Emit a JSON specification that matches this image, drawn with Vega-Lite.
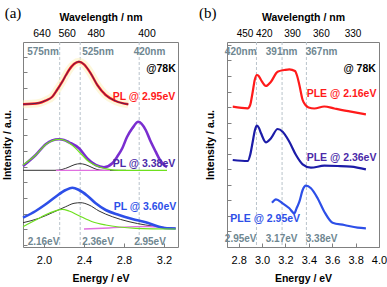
{
"$schema": "https://vega.github.io/schema/vega-lite/v6.json",
"padding": {"left": 2, "top": 5, "right": 6, "bottom": 2},
"spacing": 16,
"config": {
  "font": "Liberation Sans",
  "view": {"stroke": "#808080", "strokeWidth": 1},
  "axis": {"grid": false, "domain": false, "labelFlush": false, "labelOverlap": false, "tickColor": "#808080", "labelColor": "#000", "labelFont": "Liberation Sans", "labelFontSize": 11, "titleFont": "Liberation Sans", "titleFontSize": 10.5, "titleFontWeight": "bold", "titleColor": "#000"}
},
"datasets": {
  "pa": [
    {"dash": 2.157}, {"dash": 2.362}, {"dash": 2.952},
    {"s": "red", "E": 1.79, "y": 142.7}, {"s": "red", "E": 1.95, "y": 144}, {"s": "red", "E": 2.017, "y": 146.5}, {"s": "red", "E": 2.083, "y": 150.3}, {"s": "red", "E": 2.13, "y": 157}, {"s": "red", "E": 2.183, "y": 165.3}, {"s": "red", "E": 2.22, "y": 172}, {"s": "red", "E": 2.25, "y": 177}, {"s": "red", "E": 2.3, "y": 183}, {"s": "red", "E": 2.35, "y": 185.3}, {"s": "red", "E": 2.4, "y": 182.7}, {"s": "red", "E": 2.467, "y": 173.7}, {"s": "red", "E": 2.533, "y": 162}, {"s": "red", "E": 2.617, "y": 152}, {"s": "red", "E": 2.717, "y": 146}, {"s": "red", "E": 2.843, "y": 142.7},
    {"s": "pur", "E": 1.79, "y": 81}, {"s": "pur", "E": 1.917, "y": 92}, {"s": "pur", "E": 2.017, "y": 102.7}, {"s": "pur", "E": 2.08, "y": 106.5}, {"s": "pur", "E": 2.15, "y": 107.7}, {"s": "pur", "E": 2.2, "y": 107}, {"s": "pur", "E": 2.25, "y": 104.7}, {"s": "pur", "E": 2.35, "y": 98.7}, {"s": "pur", "E": 2.433, "y": 88.7}, {"s": "pur", "E": 2.517, "y": 82}, {"s": "pur", "E": 2.6, "y": 79.7}, {"s": "pur", "E": 2.683, "y": 83.7}, {"s": "pur", "E": 2.73, "y": 90}, {"s": "pur", "E": 2.783, "y": 98.7}, {"s": "pur", "E": 2.83, "y": 110}, {"s": "pur", "E": 2.883, "y": 118.7}, {"s": "pur", "E": 2.943, "y": 125.3}, {"s": "pur", "E": 3.017, "y": 117}, {"s": "pur", "E": 3.06, "y": 107}, {"s": "pur", "E": 3.117, "y": 95.3}, {"s": "pur", "E": 3.16, "y": 87}, {"s": "pur", "E": 3.2, "y": 82}, {"s": "pur", "E": 3.23, "y": 80},
    {"s": "gm", "E": 1.79, "y": 82}, {"s": "gm", "E": 1.917, "y": 92}, {"s": "gm", "E": 2.017, "y": 102.5}, {"s": "gm", "E": 2.15, "y": 107.7}, {"s": "gm", "E": 2.21, "y": 106.5}, {"s": "gm", "E": 2.28, "y": 102}, {"s": "gm", "E": 2.35, "y": 95.3}, {"s": "gm", "E": 2.45, "y": 85.3}, {"s": "gm", "E": 2.55, "y": 80.3}, {"s": "gm", "E": 2.65, "y": 77.7}, {"s": "gm", "E": 2.75, "y": 76.7}, {"s": "gm", "E": 3.23, "y": 76.7},
    {"s": "km", "E": 1.79, "y": 76.7}, {"s": "km", "E": 2.11, "y": 76.7}, {"s": "km", "E": 2.18, "y": 77.5}, {"s": "km", "E": 2.25, "y": 80}, {"s": "km", "E": 2.31, "y": 82.5}, {"s": "km", "E": 2.36, "y": 83.3}, {"s": "km", "E": 2.41, "y": 82.5}, {"s": "km", "E": 2.47, "y": 80}, {"s": "km", "E": 2.53, "y": 77.5}, {"s": "km", "E": 2.59, "y": 76.7}, {"s": "km", "E": 2.82, "y": 76.7},
    {"s": "mm", "E": 2.12, "y": 76.7}, {"s": "mm", "E": 2.66, "y": 76.7},
    {"s": "blu", "E": 1.79, "y": 29.3}, {"s": "blu", "E": 1.917, "y": 36}, {"s": "blu", "E": 2.017, "y": 42.7}, {"s": "blu", "E": 2.117, "y": 50.3}, {"s": "blu", "E": 2.217, "y": 57}, {"s": "blu", "E": 2.283, "y": 59.3}, {"s": "blu", "E": 2.35, "y": 57}, {"s": "blu", "E": 2.433, "y": 51.3}, {"s": "blu", "E": 2.517, "y": 43.7}, {"s": "blu", "E": 2.617, "y": 37}, {"s": "blu", "E": 2.75, "y": 32}, {"s": "blu", "E": 2.883, "y": 28}, {"s": "blu", "E": 3.017, "y": 24.7}, {"s": "blu", "E": 3.15, "y": 20.3}, {"s": "blu", "E": 3.233, "y": 18.7}, {"s": "blu", "E": 3.317, "y": 18.5},
    {"s": "kb", "E": 1.79, "y": 24.3}, {"s": "kb", "E": 1.95, "y": 28.7}, {"s": "kb", "E": 2.083, "y": 34.3}, {"s": "kb", "E": 2.217, "y": 40.3}, {"s": "kb", "E": 2.3, "y": 43.7}, {"s": "kb", "E": 2.367, "y": 44.3}, {"s": "kb", "E": 2.45, "y": 42}, {"s": "kb", "E": 2.55, "y": 36}, {"s": "kb", "E": 2.683, "y": 30.3}, {"s": "kb", "E": 2.85, "y": 25.3}, {"s": "kb", "E": 3.017, "y": 22}, {"s": "kb", "E": 3.183, "y": 19.7}, {"s": "kb", "E": 3.317, "y": 18.7},
    {"s": "gb", "E": 1.79, "y": 20.3}, {"s": "gb", "E": 1.917, "y": 27}, {"s": "gb", "E": 2.05, "y": 33.7}, {"s": "gb", "E": 2.183, "y": 37.7}, {"s": "gb", "E": 2.25, "y": 36}, {"s": "gb", "E": 2.35, "y": 31.3}, {"s": "gb", "E": 2.483, "y": 25.3}, {"s": "gb", "E": 2.617, "y": 22}, {"s": "gb", "E": 2.75, "y": 20}, {"s": "gb", "E": 2.917, "y": 18.7}, {"s": "gb", "E": 3.317, "y": 18},
    {"s": "mb", "E": 2.4, "y": 18}, {"s": "mb", "E": 2.65, "y": 19}, {"s": "mb", "E": 2.917, "y": 20.3}, {"s": "mb", "E": 3.05, "y": 20.5}, {"s": "mb", "E": 3.2, "y": 19.5}, {"s": "mb", "E": 3.317, "y": 18.5},
    {"label": "575nm", "E": 1.99, "y": 195}, {"label": "525nm", "E": 2.54, "y": 195}, {"label": "420nm", "E": 3.055, "y": 195},
    {"label": "2.16eV", "E": 1.995, "y": 5}, {"label": "2.36eV", "E": 2.54, "y": 5}, {"label": "2.95eV", "E": 3.06, "y": 5},
    {"label": "@78K", "E": 3.17, "y": 178}, {"label": "PL @ 2.95eV", "E": 3.0, "y": 150}, {"label": "PL @ 3.38eV", "E": 3.0, "y": 83}, {"label": "PL @ 3.60eV", "E": 3.01, "y": 40},
    {"label": "(a)", "E": 1.69, "y": 234}
  ],
  "pb": [
    {"dash": 2.952}, {"dash": 3.171}, {"dash": 3.379},
    {"s": "r2", "E": 2.749, "y": 140.3}, {"s": "r2", "E": 2.877, "y": 138.7}, {"s": "r2", "E": 2.898, "y": 142}, {"s": "r2", "E": 2.92, "y": 155.3}, {"s": "r2", "E": 2.937, "y": 167}, {"s": "r2", "E": 2.956, "y": 172}, {"s": "r2", "E": 2.971, "y": 171}, {"s": "r2", "E": 2.991, "y": 167}, {"s": "r2", "E": 3.033, "y": 161}, {"s": "r2", "E": 3.076, "y": 165.3}, {"s": "r2", "E": 3.133, "y": 175.3}, {"s": "r2", "E": 3.191, "y": 177}, {"s": "r2", "E": 3.233, "y": 177.7}, {"s": "r2", "E": 3.281, "y": 176}, {"s": "r2", "E": 3.3, "y": 171}, {"s": "r2", "E": 3.319, "y": 162}, {"s": "r2", "E": 3.347, "y": 147}, {"s": "r2", "E": 3.375, "y": 141.5}, {"s": "r2", "E": 3.398, "y": 139.5}, {"s": "r2", "E": 3.447, "y": 138.5}, {"s": "r2", "E": 3.532, "y": 140.5}, {"s": "r2", "E": 3.618, "y": 138.5}, {"s": "r2", "E": 3.76, "y": 135.3}, {"s": "r2", "E": 3.888, "y": 132.7},
    {"s": "n2", "E": 2.749, "y": 87}, {"s": "n2", "E": 2.877, "y": 86}, {"s": "n2", "E": 2.898, "y": 92}, {"s": "n2", "E": 2.92, "y": 105.3}, {"s": "n2", "E": 2.937, "y": 116}, {"s": "n2", "E": 2.954, "y": 121.3}, {"s": "n2", "E": 2.971, "y": 119.5}, {"s": "n2", "E": 2.991, "y": 113.7}, {"s": "n2", "E": 3.033, "y": 104.7}, {"s": "n2", "E": 3.076, "y": 108.7}, {"s": "n2", "E": 3.133, "y": 118}, {"s": "n2", "E": 3.176, "y": 115.3}, {"s": "n2", "E": 3.233, "y": 105.3}, {"s": "n2", "E": 3.29, "y": 92}, {"s": "n2", "E": 3.347, "y": 82.7}, {"s": "n2", "E": 3.418, "y": 79.3}, {"s": "n2", "E": 3.532, "y": 81.3}, {"s": "n2", "E": 3.646, "y": 81}, {"s": "n2", "E": 3.76, "y": 80.3}, {"s": "n2", "E": 3.888, "y": 77.7},
    {"s": "b2", "E": 3.085, "y": 44.3}, {"s": "b2", "E": 3.119, "y": 47.7}, {"s": "b2", "E": 3.176, "y": 43.7}, {"s": "b2", "E": 3.233, "y": 38.7}, {"s": "b2", "E": 3.276, "y": 33.7}, {"s": "b2", "E": 3.296, "y": 39}, {"s": "b2", "E": 3.319, "y": 45.3}, {"s": "b2", "E": 3.347, "y": 57}, {"s": "b2", "E": 3.375, "y": 61.3}, {"s": "b2", "E": 3.418, "y": 58.7}, {"s": "b2", "E": 3.475, "y": 48.7}, {"s": "b2", "E": 3.532, "y": 35.3}, {"s": "b2", "E": 3.603, "y": 24.3}, {"s": "b2", "E": 3.703, "y": 22}, {"s": "b2", "E": 3.817, "y": 19.3}, {"s": "b2", "E": 3.888, "y": 18.7},
    {"label": "420nm", "E": 2.817, "y": 195}, {"label": "391nm", "E": 3.167, "y": 195}, {"label": "367nm", "E": 3.509, "y": 195},
    {"label": "2.95eV", "E": 2.817, "y": 8.5}, {"label": "3.17eV", "E": 3.167, "y": 8.5}, {"label": "3.38eV", "E": 3.509, "y": 8.5},
    {"label": "@ 78K", "E": 3.834, "y": 178}, {"label": "PLE @ 2.16eV", "E": 3.68, "y": 153}, {"label": "PLE @ 2.36eV", "E": 3.68, "y": 89}, {"label": "PLE @ 2.95eV", "E": 3.027, "y": 28},
    {"label": "(b)", "E": 2.535, "y": 234}
  ]
},
"hconcat": [
  {
    "width": 155, "height": 205,
    "data": {"name": "pa"},
    "layer": [
      {
        "transform": [{"filter": "isValid(datum.dash)"}],
        "mark": {"type": "rule", "strokeDash": [3, 2], "color": "#b9c3cb", "strokeWidth": 1},
        "encoding": {"x": {"field": "dash", "type": "quantitative", "scale": {"domain": [1.79, 3.34], "nice": false, "zero": false},
          "axis": {"orient": "top", "title": "Wavelength / nm", "values": [1.975, 2.227, 2.517, 3.025], "labelExpr": "datum.value == 1.975 ? '640' : datum.value == 2.227 ? '560' : datum.value == 2.517 ? '480' : '400'", "ticks": false, "labelFontSize": 10.5, "labelPadding": 4, "titlePadding": 6}}}
      },
      {
        "encoding": {
          "x": {"field": "E", "type": "quantitative", "scale": {"domain": [1.79, 3.34], "nice": false, "zero": false},
            "axis": {"orient": "bottom", "title": "Energy / eV", "values": [2.0, 2.4, 2.8, 3.2], "format": ".1f", "tickSize": -4, "labelPadding": 11, "titlePadding": 8}},
          "y": {"field": "y", "type": "quantitative", "scale": {"domain": [0, 205], "nice": false, "zero": false},
            "axis": {"title": "Intensity / a.u.", "labels": false, "tickSize": -4, "values": [2, 17.7, 33.4, 49.1, 64.8, 80.5, 96.2, 111.9, 127.6, 143.3, 159, 174.7, 190.4], "titlePadding": 10}}
        },
        "layer": [
          {"transform": [{"filter": "datum.s == 'red'"}], "mark": {"type": "line", "interpolate": "monotone", "color": "#fbf0b8", "strokeWidth": 8, "opacity": 0.5}},
          {"transform": [{"filter": "datum.s == 'km' || datum.s == 'kb'"}], "mark": {"type": "line", "interpolate": "monotone", "color": "#333333", "strokeWidth": 1}, "encoding": {"detail": {"field": "s"}}},
          {"transform": [{"filter": "datum.s == 'mm' || datum.s == 'mb'"}], "mark": {"type": "line", "interpolate": "monotone", "color": "#e070e0", "strokeWidth": 1.3}, "encoding": {"detail": {"field": "s"}}},
          {"transform": [{"filter": "datum.s == 'pur'"}], "mark": {"type": "line", "interpolate": "monotone", "color": "#7a2ed0", "strokeWidth": 2.6}},
          {"transform": [{"filter": "datum.s == 'blu'"}], "mark": {"type": "line", "interpolate": "monotone", "color": "#2d4fe8", "strokeWidth": 2.6}},
          {"transform": [{"filter": "datum.s == 'gm' || datum.s == 'gb'"}], "mark": {"type": "line", "interpolate": "monotone", "color": "#6ee01e", "strokeWidth": 1.2}, "encoding": {"detail": {"field": "s"}}},
          {"transform": [{"filter": "datum.s == 'red'"}], "mark": {"type": "line", "interpolate": "monotone", "color": "#ff1a1a", "strokeWidth": 2.4}},
          {"transform": [{"filter": "datum.s == 'red'"}], "mark": {"type": "line", "interpolate": "monotone", "color": "#222266", "strokeWidth": 0.8}},
          {"transform": [{"filter": "isValid(datum.label) && indexof(datum.label, '@') < 0 && indexof(datum.label, '(') < 0"}], "mark": {"type": "text", "fontWeight": "bold", "fontSize": 10, "color": "#6f8791"}, "encoding": {"text": {"field": "label"}}},
          {"transform": [{"filter": "isValid(datum.label) && indexof(datum.label, '@') >= 0"}], "mark": {"type": "text", "fontWeight": "bold", "fontSize": 10.5}, "encoding": {"text": {"field": "label"}, "color": {"field": "label", "type": "nominal", "legend": null, "scale": {"domain": ["@78K", "PL @ 2.95eV", "PL @ 3.38eV", "PL @ 3.60eV"], "range": ["#000000", "#ff1a1a", "#4b2aa8", "#2d4fe8"]}}}},
          {"transform": [{"filter": "datum.label == '(a)'"}], "mark": {"type": "text", "font": "Liberation Serif", "fontSize": 15, "color": "#000"}, "encoding": {"text": {"field": "label"}}}
        ]
      }
    ],
    "resolve": {"scale": {"x": "independent"}}
  },
  {
    "width": 152, "height": 205,
    "data": {"name": "pb"},
    "layer": [
      {
        "transform": [{"filter": "isValid(datum.dash)"}],
        "mark": {"type": "rule", "strokeDash": [3, 2], "color": "#b9c3cb", "strokeWidth": 1},
        "encoding": {"x": {"field": "dash", "type": "quantitative", "scale": {"domain": [2.7, 4.0], "nice": false, "zero": false},
          "axis": {"orient": "top", "title": "Wavelength / nm", "values": [2.85, 3.015, 3.256, 3.503, 3.774], "labelExpr": "datum.value == 2.85 ? '450' : datum.value == 3.015 ? '420' : datum.value == 3.256 ? '390' : datum.value == 3.503 ? '360' : '330'", "ticks": false, "labelFontSize": 10, "labelPadding": 4, "titlePadding": 6}}}
      },
      {
        "encoding": {
          "x": {"field": "E", "type": "quantitative", "scale": {"domain": [2.7, 4.0], "nice": false, "zero": false},
            "axis": {"orient": "bottom", "title": "Energy / eV", "values": [2.8, 3.0, 3.2, 3.4, 3.6, 3.8, 4.0], "format": ".1f", "tickSize": -4, "labelPadding": 11, "titlePadding": 8}},
          "y": {"field": "y", "type": "quantitative", "scale": {"domain": [0, 205], "nice": false, "zero": false},
            "axis": {"title": "Intensity / a.u.", "labels": false, "tickSize": -4, "values": [0.5, 16, 31.5, 47, 62.5, 78, 93.5, 109, 124.5, 140, 155.5, 171, 186.5, 202], "titlePadding": 11}}
        },
        "layer": [
          {"transform": [{"filter": "datum.s == 'r2'"}], "mark": {"type": "line", "interpolate": "monotone", "color": "#ff1a1a", "strokeWidth": 2.2}},
          {"transform": [{"filter": "datum.s == 'n2'"}], "mark": {"type": "line", "interpolate": "monotone", "color": "#1c1ca8", "strokeWidth": 2.2}},
          {"transform": [{"filter": "datum.s == 'b2'"}], "mark": {"type": "line", "interpolate": "monotone", "color": "#2d4fe8", "strokeWidth": 2.2}},
          {"transform": [{"filter": "isValid(datum.label) && indexof(datum.label, '@') < 0 && indexof(datum.label, '(') < 0"}], "mark": {"type": "text", "fontWeight": "bold", "fontSize": 10, "color": "#6f8791"}, "encoding": {"text": {"field": "label"}}},
          {"transform": [{"filter": "isValid(datum.label) && indexof(datum.label, '@') >= 0"}], "mark": {"type": "text", "fontWeight": "bold", "fontSize": 10.5}, "encoding": {"text": {"field": "label"}, "color": {"field": "label", "type": "nominal", "legend": null, "scale": {"domain": ["@ 78K", "PLE @ 2.16eV", "PLE @ 2.36eV", "PLE @ 2.95eV"], "range": ["#000000", "#ff1a1a", "#1c1ca8", "#2d4fe8"]}}}},
          {"transform": [{"filter": "datum.label == '(b)'"}], "mark": {"type": "text", "font": "Liberation Serif", "fontSize": 15, "color": "#000"}, "encoding": {"text": {"field": "label"}}}
        ]
      }
    ],
    "resolve": {"scale": {"x": "independent"}}
  }
]
}
